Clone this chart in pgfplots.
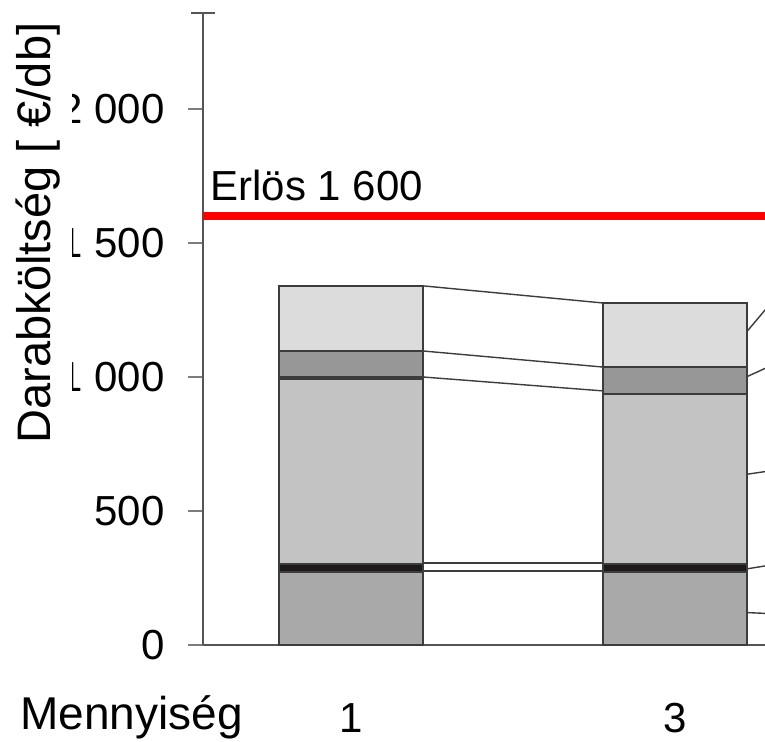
\documentclass[border=0pt]{standalone}
\usepackage{fontspec}
\setmainfont{Liberation Sans}
\usepackage{pgfplots}
\pgfplotsset{compat=1.18}

\definecolor{lightseg}{RGB}{220,220,220}
\definecolor{darkseg}{RGB}{151,151,151}
\definecolor{midseg}{RGB}{195,195,195}
\definecolor{baseseg}{RGB}{169,169,169}
\definecolor{blackseg}{RGB}{30,26,26}
\definecolor{outline}{RGB}{60,60,60}
\definecolor{axisgray}{RGB}{85,85,85}
\definecolor{tickgray}{RGB}{125,125,125}

\newcommand\tf{\fontsize{21}{21}\selectfont}
\pgfplotsset{conn/.style={stack plots=false, sharp plot, no marks, draw=outline, line width=0.7pt}}

\begin{document}
\begin{tikzpicture}
\path[use as bounding box] (0,0) rectangle (382.5pt,370.5pt);
\clip (0,0) rectangle (382.5pt,370.5pt);
\begin{axis}[
  scale only axis,
  width=300.8pt, height=316pt,
  at={(101.5pt,48pt)}, anchor=south west,
  xmin=0.0864, xmax=3.8,
  ymin=0, ymax=2358,
  axis x line=bottom, axis y line=left,
  axis line style={-, draw=axisgray, line width=1pt},
  ybar stacked, bar width=0.889,
  xtick={1,3}, xticklabels={1,3},
  xtick style={draw=none},
  ytick={0,500,1000,1500,2000},
  yticklabels={0,500,1 000,1 500,2 000},
  ytick style={draw=tickgray, line width=1pt},
  tick align=outside, major tick length=7.5pt,
  extra y ticks={2358}, extra y tick labels={},
  extra y tick style={tick align=center, major tick length=12pt, ytick style={draw=axisgray, line width=1pt}},
  yticklabel style={font=\tf, anchor=east, inner sep=0pt, xshift=-11.5pt},
  xticklabel style={font=\tf, anchor=base, inner sep=0pt, yshift=-36pt},
  every axis plot/.append style={draw=outline, line width=0.8pt},
]
  % stacked cost components per quantity
  \addplot[fill=baseseg] coordinates {(1,272) (3,272)};
  \addplot[fill=blackseg] coordinates {(1,30) (3,30)};
  \addplot[fill=midseg] coordinates {(1,690) (3,634)};
  \addplot[fill=blackseg] coordinates {(1,8) (3,0)};
  \addplot[fill=darkseg] coordinates {(1,97) (3,101)};
  \addplot[fill=lightseg] coordinates {(1,243) (3,239)};

  % connectors between the bars
  \addplot[conn] coordinates {(1.444,1340) (2.556,1276)};
  \addplot[conn] coordinates {(1.444,1097) (2.556,1037)};
  \addplot[conn] coordinates {(1.444,1000) (2.556,948)};
  \addplot[conn] coordinates {(1.444,306) (2.556,306)};
  \addplot[conn] coordinates {(1.444,276) (2.556,276)};

  % leader lines to the right of the second bar
  \addplot[conn] coordinates {(3.443,1169) (3.556,1250) (3.6,1282)};
  \addplot[conn] coordinates {(3.443,1001) (3.556,1032) (3.6,1044)};
  \addplot[conn] coordinates {(3.443,637) (3.556,647) (3.6,651)};
  \addplot[conn] coordinates {(3.443,284) (3.556,295) (3.6,299)};
  \addplot[conn] coordinates {(3.443,121) (3.556,118) (3.6,117)};

  % revenue line
  \addplot[conn, draw=red, line width=4pt] coordinates {(0.0864,1600) (3.8,1600)};
  \node[anchor=base west, font=\tf, inner sep=0pt] at (axis cs:0.13,1600) [yshift=8pt] {Erlös 1 600};
\end{axis}
\fill[white] (0,145pt) rectangle (36pt,365pt);
\node[rotate=90, anchor=base, inner sep=0pt, font=\fontsize{23.5}{23.5}\selectfont] at (25pt,254pt) {Darabköltség [ €/db]};
\node[anchor=base west, inner sep=0pt, font=\fontsize{23}{23}\selectfont] at (10pt,6pt) {Mennyiség};
\end{tikzpicture}
\end{document}
